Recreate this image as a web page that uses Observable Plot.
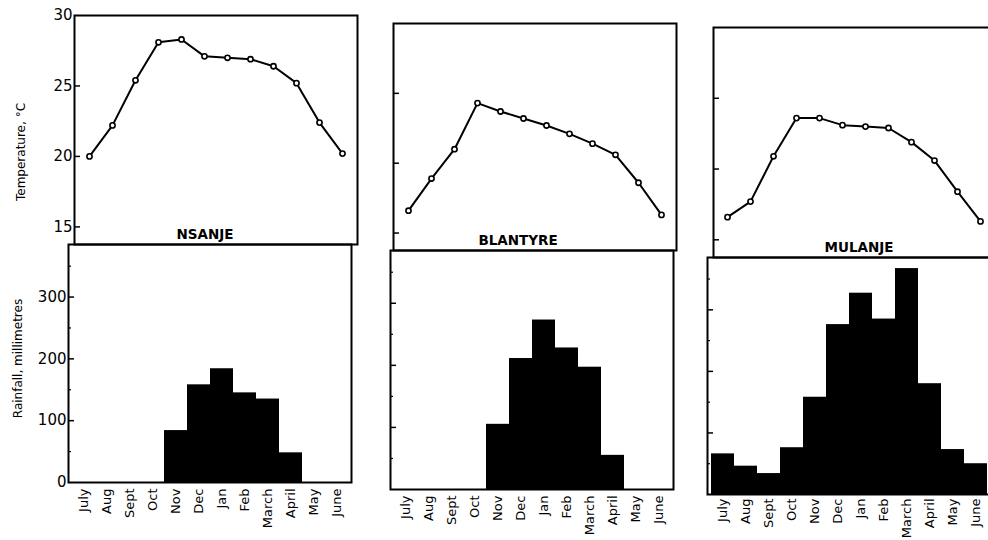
<!DOCTYPE html>
<html><head><meta charset="utf-8">
<script src="https://cdn.jsdelivr.net/npm/d3@7"></script>
<script src="https://cdn.jsdelivr.net/npm/@observablehq/plot@0.6"></script>
<style>
body{margin:0;background:#fff}
#root{position:relative;width:988px;height:540px;overflow:hidden;background:#fff}
#root svg{position:absolute;left:0;top:0;max-width:none;background:transparent;overflow:visible}
</style></head><body><div id="root"></div>
<script>
const months = ["July","Aug","Sept","Oct","Nov","Dec","Jan","Feb","March","April","May","June"];
const stations = ["NSANJE","BLANTYRE","MULANJE"];
const tempNsanje   = [20.0,22.2,25.4,28.1,28.3,27.1,27.0,26.9,26.4,25.2,22.4,20.2];
const tempBlantyre = [16.6,18.9,21.0,24.3,23.7,23.2,22.7,22.1,21.4,20.6,18.6,16.3];
const tempMulanje  = [16.6,17.7,20.9,23.6,23.6,23.1,23.0,22.9,21.9,20.6,18.4,16.3];
const rainNsanje   = [0,0,0,0,84,158,184,145,135,48,0,0];
const rainBlantyre = [0,0,0,0,105,211,273,228,197,55,0,0];
const rainMulanje  = [66,46,34,76,158,276,327,285,367,180,73,50];
const tempTicks = [15,20,25,30];
const tempInner = [15,20,25];
const rainTicks = [0,100,200,300];
const rainInnerMajor = [100,200,300];
const rainInnerMinor = [50,150,250,350];
const tempLabel = "Temperature, °C";
const rainLabel = "Rainfall, millimetres";

const temps = [tempNsanje, tempBlantyre, tempMulanje];
const rains = [rainNsanje, rainBlantyre, rainMulanje];

// layout (pixel geometry of each station panel)
const layout = [
  {tTop:15, div:244, tL:74,  tR:357, rL:68,  rR:351, zero:482, dx:-11, pad:6, axes:true},
  {tTop:23, div:250, tL:393, tR:676, rL:390, rR:673, zero:489, dx:-17, pad:6, axes:false},
  {tTop:27, div:257, tL:713, tR:994, rL:707, rR:991, zero:494, dx:5,   pad:4, axes:false}
];
const W = 1000, H = 540;
const FONT = "'DejaVu Sans', 'Liberation Sans', sans-serif";
const root = document.getElementById("root");

stations.forEach((name, i) => {
  const L = layout[i];
  const tData = months.map((m, j) => ({month: m, temp: temps[i][j]}));
  const rData = months.map((m, j) => ({month: m, rain: rains[i][j]}));
  const tW = L.tR - L.tL, rW = L.rR - L.rL;

  const tp = Plot.plot({
    width: W, height: H,
    marginTop: L.tTop, marginBottom: H - L.div, marginLeft: L.tL, marginRight: W - L.tR,
    style: {fontFamily: FONT, fontSize: "13px", background: "transparent", overflow: "visible"},
    x: {type: "point", domain: months, padding: 0.5, axis: null},
    y: {domain: [13.75, 30], axis: null},
    marks: [
      Plot.tickY(tempInner, {y: d => d, insetRight: tW - 6, stroke: "black", strokeWidth: 1.5}),
      Plot.frame({stroke: "black", strokeWidth: 2}),
      Plot.line(tData, {x: "month", y: "temp", stroke: "black", strokeWidth: 2}),
      Plot.dot(tData, {x: "month", y: "temp", r: 2.6, fill: "white", stroke: "black", strokeWidth: 1.6}),
      Plot.text([name], {frameAnchor: "bottom", dx: L.dx, dy: -6, fontSize: 13.5, fontWeight: "bold", fill: "black"}),
      ...(L.axes ? [
        Plot.text(tempTicks, {y: d => d, frameAnchor: "left", textAnchor: "end", dx: -2, fontSize: 15, fill: "black"}),
        Plot.text([tempLabel], {frameAnchor: "left", textAnchor: "middle", lineAnchor: "middle", rotate: -90, dx: -53, dy: 22, fontSize: 12, fill: "black"})
      ] : [])
    ]
  });
  root.appendChild(tp);

  const rp = Plot.plot({
    width: W, height: H,
    marginTop: L.div, marginBottom: H - L.zero, marginLeft: L.rL, marginRight: W - L.rR,
    style: {fontFamily: FONT, fontSize: "13px", background: "transparent", overflow: "visible", color: "black"},
    x: {type: "band", domain: months, padding: 0, tickRotate: -90, tickSize: 0, tickPadding: L.pad, label: null},
    y: {domain: [0, 385], axis: null},
    marks: [
      Plot.barY(rData, {x: "month", y: "rain", fill: "black"}),
      Plot.tickY(rainInnerMajor, {y: d => d, insetRight: rW - 6, stroke: "black", strokeWidth: 1.5}),
      Plot.tickY(rainInnerMinor, {y: d => d, insetRight: rW - 3, stroke: "black", strokeWidth: 1.2}),
      Plot.frame({stroke: "black", strokeWidth: 2}),
      ...(L.axes ? [
        Plot.text(rainTicks, {y: d => d, frameAnchor: "left", textAnchor: "end", dx: -2, fontSize: 15, fill: "black"}),
        Plot.text([rainLabel], {frameAnchor: "left", textAnchor: "middle", lineAnchor: "middle", rotate: -90, dx: -50, dy: -5, fontSize: 12, fill: "black"})
      ] : [])
    ]
  });
  root.appendChild(rp);
});
</script></body></html>
